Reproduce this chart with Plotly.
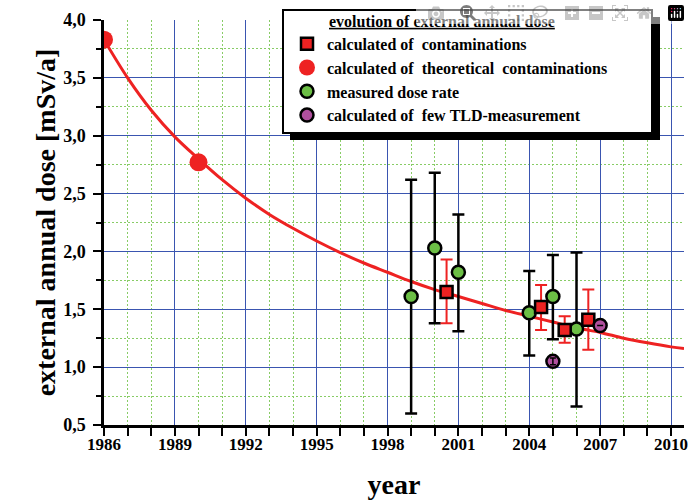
import plotly.graph_objects as go

# Fitted curve
curve_years = [1986, 1987, 1988, 1989, 1990, 1991, 1992, 1993, 1994, 1995, 1996, 1997, 1998,
               1999, 2000, 2001, 2002, 2003, 2004, 2005, 2006, 2007, 2008, 2009, 2010, 2010.55]
curve_values = [3.83, 3.50, 3.22, 2.99, 2.80, 2.62, 2.46, 2.32, 2.20, 2.09, 1.99, 1.90, 1.82,
                1.74, 1.67, 1.61, 1.55, 1.49, 1.44, 1.39, 1.34, 1.30, 1.25, 1.21, 1.175, 1.16]

# calculated of contaminations (red squares)
calc_years = [2000.5, 2004.5, 2005.5, 2006.5]
calc_values = [1.65, 1.52, 1.32, 1.41]
calc_upper = [1.93, 1.71, 1.44, 1.67]
calc_lower = [1.38, 1.32, 1.21, 1.15]

# calculated of theoretical contaminations (red circles)
theo_years = [1986, 1990]
theo_values = [3.83, 2.77]

# measured dose rate (green circles)
meas_years = [1999, 2000, 2001, 2004, 2005, 2006]
meas_values = [1.61, 2.03, 1.82, 1.47, 1.61, 1.33]
meas_upper = [2.62, 2.68, 2.32, 1.83, 1.97, 1.99]
meas_lower = [0.60, 1.38, 1.31, 1.10, 1.24, 0.66]

# calculated of few TLD-measurement (purple)
tld_years = [2005, 2007]
tld_values = [1.05, 1.36]
tld_err = [0.03, 0.0]

legend_title = "evolution of external annual dose"
names = ["calculated of  contaminations", "calculated of  theoretical  contaminations",
         "measured dose rate", "calculated of  few TLD-measurement"]
x_title = "year"
y_title = "external annual dose [mSv/a]"

FONT = "Liberation Serif, Times New Roman, serif"
RED = "#ee2222"
GREEN = "#6cbf45"
PURPLE = "#b0509e"
MINOR_GRID = "#88cc66"
MAJOR_GRID = "#3a55b0"
W, H = 690, 503

def nb(s):
    return s.replace(" ", "\u00a0")

fig = go.Figure()

fig.add_trace(go.Scatter(x=curve_years, y=curve_values, mode="lines",
                         line=dict(color=RED, width=3, shape="spline"),
                         showlegend=False, hoverinfo="skip"))

fig.add_trace(go.Scatter(x=theo_years, y=theo_values, mode="markers", name=nb(names[1]),
                         marker=dict(symbol="circle", size=18, color=RED, line=dict(width=0)),
                         legendrank=2))

fig.add_trace(go.Scatter(x=meas_years, y=meas_values, mode="markers", name=nb(names[2]),
                         marker=dict(symbol="circle", size=13, color=GREEN,
                                     line=dict(color="black", width=2.5)),
                         error_y=dict(type="data", symmetric=False,
                                      array=[u - v for u, v in zip(meas_upper, meas_values)],
                                      arrayminus=[v - l for v, l in zip(meas_values, meas_lower)],
                                      color="black", thickness=2.5, width=6),
                         legendrank=3))

fig.add_trace(go.Scatter(x=calc_years, y=calc_values, mode="markers", name=nb(names[0]),
                         marker=dict(symbol="square", size=12, color=RED,
                                     line=dict(color="black", width=2.5)),
                         error_y=dict(type="data", symmetric=False,
                                      array=[u - v for u, v in zip(calc_upper, calc_values)],
                                      arrayminus=[v - l for v, l in zip(calc_values, calc_lower)],
                                      color=RED, thickness=2, width=6),
                         legendrank=1))

fig.add_trace(go.Scatter(x=tld_years, y=tld_values, mode="markers", name=nb(names[3]),
                         marker=dict(symbol="circle", size=13, color=PURPLE,
                                     line=dict(color="black", width=2.5)),
                         legendrank=4))

fig.add_trace(go.Scatter(x=tld_years, y=tld_values, mode="markers", showlegend=False,
                         marker=dict(size=1, color="rgba(0,0,0,0)"),
                         error_y=dict(type="data", array=tld_err, color="black",
                                      thickness=1.5, width=3),
                         hoverinfo="skip"))

# plot area in window pixels: x 104..684, y 20..425
def px_x(p):
    return (p - 104) / 580.0

def px_y(p):
    return (425 - p) / 405.0

# legend shadow and box
fig.add_shape(type="rect", xref="paper", yref="paper",
              x0=px_x(290), x1=px_x(660), y0=px_y(140), y1=px_y(17),
              fillcolor="black", line=dict(width=0), layer="above")
fig.add_shape(type="rect", xref="paper", yref="paper",
              x0=px_x(283), x1=px_x(652), y0=px_y(133), y1=px_y(10),
              fillcolor="white", line=dict(color="black", width=2), layer="above")

fig.update_layout(
    width=W, height=H,
    margin=dict(l=104, r=6, t=20, b=78),
    paper_bgcolor="white", plot_bgcolor="white",
    separators=",.",
    font=dict(family=FONT, color="black", size=18, weight="bold"),
    showlegend=True,
    legend=dict(
        x=px_x(287), y=px_y(6), xanchor="left", yanchor="top",
        bgcolor="rgba(0,0,0,0)", borderwidth=0,
        font=dict(family=FONT, size=16, color="black", weight="bold"),
        title=dict(text="\u00a0" * 10 + '<span style="text-decoration:underline">' + nb(legend_title) + '</span>',
                   font=dict(family=FONT, size=16, color="black", weight="bold"),
                   side="top"),
        tracegroupgap=0, itemwidth=30,
    ),
    xaxis=dict(
        range=[1986, 2010.55], tick0=1986, dtick=3,
        showline=True, linecolor="black", linewidth=2.5,
        ticks="outside", ticklen=8, tickwidth=2, tickcolor="black",
        showgrid=True, gridcolor=MAJOR_GRID, gridwidth=1,
        zeroline=False, automargin=False,
        ticklabeloverflow="allow", ticklabelstandoff=-6,
        tickfont=dict(family=FONT, size=17, color="black", weight="bold"),
        minor=dict(dtick=1, tick0=1986, ticks="outside", ticklen=8, tickwidth=2, tickcolor="black",
                   showgrid=True, gridcolor=MINOR_GRID, griddash="2px,2px", gridwidth=1),
        title=dict(text=x_title, font=dict(family=FONT, size=28, color="black", weight="bold"),
                   standoff=22),
    ),
    yaxis=dict(
        range=[0.5, 4.0], tick0=0.5, dtick=0.5, tickformat=".1f",
        showline=True, linecolor="black", linewidth=2.5,
        ticks="outside", ticklen=8, tickwidth=2, tickcolor="black",
        showgrid=True, gridcolor=MAJOR_GRID, gridwidth=1,
        zeroline=False, automargin=False,
        ticklabelstandoff=4,
        tickfont=dict(family=FONT, size=18, color="black", weight="bold"),
        minor=dict(dtick=0.25, tick0=0.5, ticks="outside", ticklen=5, tickwidth=2, tickcolor="black",
                   showgrid=True, gridcolor=MINOR_GRID, griddash="2px,2px", gridwidth=1),
        title=dict(text=y_title, font=dict(family=FONT, size=28, color="black", weight="bold"),
                   standoff=0),
    ),
)

fig.write_html("out.html",
               post_script="document.body.style.margin='0';document.body.style.overflow='hidden';")
